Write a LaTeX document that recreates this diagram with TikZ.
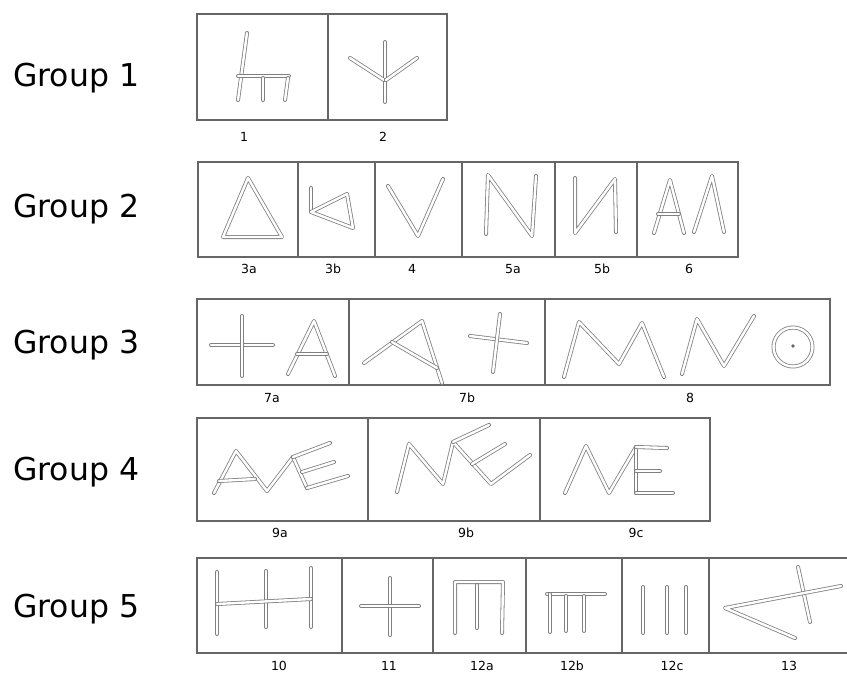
\documentclass[tikz,border=0pt]{standalone}
\usepackage{fontspec}
\setmainfont{DejaVu Sans}
\begin{document}
\begin{tikzpicture}[x=1pt, y=-1pt,
    frame/.style={line width=1.2pt, black!60},
    sign/.style={draw=black!50, line width=0.8pt, double=white, double distance=2.4pt, line cap=round, line join=round},
    grouplabel/.style={anchor=base west, inner sep=0pt, font=\fontsize{31.5}{36}\selectfont},
    numlabel/.style={anchor=base, inner sep=0pt, font=\fontsize{12.5}{15}\selectfont}]

    \useasboundingbox (0,0) rectangle (847,673);

    % === GROUP LABELS ===
    \node[grouplabel] (grp1) at (13,86) {Group 1};
    \node[grouplabel] (grp2) at (13,217) {Group 2};
    \node[grouplabel] (grp3) at (13,353) {Group 3};
    \node[grouplabel] (grp4) at (13,480) {Group 4};
    \node[grouplabel] (grp5) at (13,617) {Group 5};

    % === GROUP 1 ===
    \draw[frame] (197,14) rectangle (447,120);
    \draw[frame] (328,14) -- (328,120);

    % Sign 1 (chair)
    \draw[sign] (247,33) -- (238,100);
    \draw[sign] (238,76) -- (289,76);
    \draw[sign] (263,78) -- (263,100);
    \draw[sign] (288,78) -- (285,100);

    % Sign 2 (arrow)
    \draw[sign] (385,42) -- (385,102);
    \draw[sign] (350,58) -- (384,80);
    \draw[sign] (417,58) -- (386,80);

    \node[numlabel] (lbl1) at (244,141.5) {1};
    \node[numlabel] (lbl2) at (383,141.5) {2};

    % === GROUP 2 ===
    \draw[frame] (198,162) rectangle (738,257);
    \draw[frame] (298,162) -- (298,257);
    \draw[frame] (375,162) -- (375,257);
    \draw[frame] (462,162) -- (462,257);
    \draw[frame] (555,162) -- (555,257);
    \draw[frame] (637,162) -- (637,257);

    % Sign 3a (triangle)
    \draw[sign] (248,178) -- (223,237) -- (282,237) -- cycle;

    % Sign 3b (tilted triangle)
    \draw[sign] (311,188) -- (311,212);
    \draw[sign] (311,212) -- (347,194) -- (353,228) -- cycle;

    % Sign 4
    \draw[sign] (388,186) -- (418,236) -- (443,179);

    % Sign 5a / 5b
    \draw[sign] (486,234) -- (488,175) -- (532,236) -- (536,176);
    \draw[sign] (575,178) -- (575,233) -- (615,179) -- (616,232);

    % Sign 6
    \draw[sign] (654,233) -- (670,180) -- (684,233);
    \draw[sign] (658,214) -- (679,214);
    \draw[sign] (694,232) -- (712,176) -- (724,232);

    \node[numlabel] (lbl3a) at (249,273.5) {3a};
    \node[numlabel] (lbl3b) at (333,273.5) {3b};
    \node[numlabel] (lbl4) at (412,273.5) {4};
    \node[numlabel] (lbl5a) at (513,273.5) {5a};
    \node[numlabel] (lbl5b) at (602,273.5) {5b};
    \node[numlabel] (lbl6) at (689,273.5) {6};

    % === GROUP 3 ===
    \draw[frame] (197,299) rectangle (830,385);
    \draw[frame] (349,299) -- (349,385);
    \draw[frame] (545,299) -- (545,385);

    % Sign 7a (cross and A)
    \draw[sign] (211,345) -- (273,345);
    \draw[sign] (242,316) -- (242,376);
    \draw[sign] (288,374) -- (314,321) -- (335,376);
    \draw[sign] (297,354) -- (327,354);

    % Sign 7b (tilted A and cross)
    \draw[sign] (364,363) -- (422,321) -- (442,383);
    \draw[sign] (392,342) -- (437,368);
    \draw[sign] (470,336) -- (527,343);
    \draw[sign] (500,314) -- (493,372);

    % Sign 8 (M, N, O)
    \draw[sign] (564,377) -- (579,322) -- (619,364) -- (642,323) -- (664,377);
    \draw[sign] (682,374) -- (697,319) -- (724,366) -- (754,316);
    \draw[sign] (793,347) circle (19.5);
    \fill[black!60] (793,346) circle (1.8);

    \node[numlabel] (lbl7a) at (272,402.5) {7a};
    \node[numlabel] (lbl7b) at (467,402.5) {7b};
    \node[numlabel] (lbl8) at (690,402.5) {8};

    % === GROUP 4 ===
    \draw[frame] (197,418) rectangle (710,521);
    \draw[frame] (368,418) -- (368,521);
    \draw[frame] (540,418) -- (540,521);

    % Sign 9a
    \draw[sign] (214,493) -- (236,451) -- (267,491) -- (293,457);
    \draw[sign] (219,481) -- (255,479);
    \draw[sign] (293,457) -- (307,488);
    \draw[sign] (293,457) -- (330,443);
    \draw[sign] (302,472) -- (334,462);
    \draw[sign] (307,488) -- (348,476);

    % Sign 9b
    \draw[sign] (397,492) -- (409,444) -- (443,484) -- (453,442) -- (491,484) -- (530,455);
    \draw[sign] (453,442) -- (489,425);
    \draw[sign] (472,464) -- (505,444);

    % Sign 9c
    \draw[sign] (565,493) -- (586,446) -- (609,493) -- (636,447);
    \draw[sign] (636,447) -- (636,493);
    \draw[sign] (636,447) -- (667,448);
    \draw[sign] (636,471) -- (660,471);
    \draw[sign] (636,493) -- (673,493);

    \node[numlabel] (lbl9a) at (280,537.5) {9a};
    \node[numlabel] (lbl9b) at (466,537.5) {9b};
    \node[numlabel] (lbl9c) at (636,537.5) {9c};

    % === GROUP 5 ===
    \draw[frame] (847,558) -- (197,558) -- (197,653) -- (847,653);
    \draw[frame] (342,558) -- (342,653);
    \draw[frame] (433,558) -- (433,653);
    \draw[frame] (526,558) -- (526,653);
    \draw[frame] (622,558) -- (622,653);
    \draw[frame] (709,558) -- (709,653);

    % Sign 10
    \draw[sign] (217,572) -- (217,634);
    \draw[sign] (266,571) -- (266,627);
    \draw[sign] (311,568) -- (311,627);
    \draw[sign] (217,604) -- (311,599);

    % Sign 11
    \draw[sign] (390,578) -- (390,635);
    \draw[sign] (361,606) -- (419,606);

    % Sign 12a / 12b / 12c
    \draw[sign] (455,633) -- (455,582) -- (503,582) -- (502,633);
    \draw[sign] (477,585) -- (477,628);
    \draw[sign] (547,594) -- (605,594);
    \draw[sign] (550,594) -- (550,632);
    \draw[sign] (566,596) -- (566,631);
    \draw[sign] (584,596) -- (584,631);
    \draw[sign] (643,587) -- (643,633);
    \draw[sign] (667,587) -- (667,633);
    \draw[sign] (686,587) -- (686,633);

    % Sign 13
    \draw[sign] (798,567) -- (810,622);
    \draw[sign] (795,638) -- (725,608) -- (841,586);

    \node[numlabel] (lbl10) at (279,670.5) {10};
    \node[numlabel] (lbl11) at (389,670.5) {11};
    \node[numlabel] (lbl12a) at (482,670.5) {12a};
    \node[numlabel] (lbl12b) at (572,670.5) {12b};
    \node[numlabel] (lbl12c) at (672,670.5) {12c};
    \node[numlabel] (lbl13) at (789,670.5) {13};

\end{tikzpicture}
\end{document}
